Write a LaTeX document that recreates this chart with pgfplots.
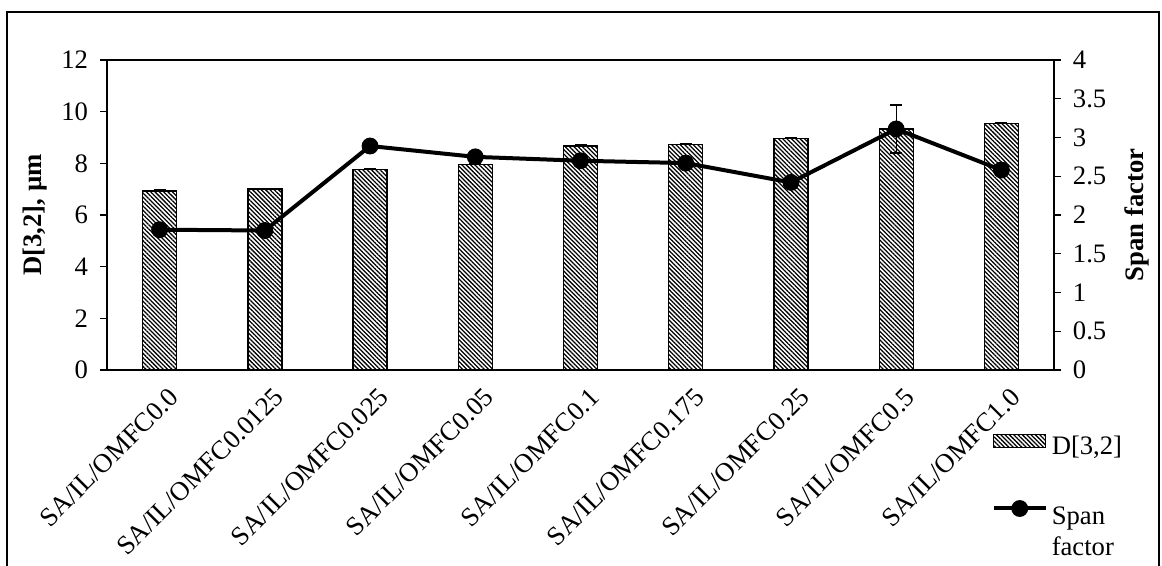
\documentclass[border=0pt]{standalone}
\usepackage{pgfplots}
\pgfplotsset{compat=1.18}
\usetikzlibrary{patterns.meta}
\usepackage{fontspec}
\setmainfont{Liberation Serif}

% Mean droplet size D[3,2] (µm) and span factor per formulation
\pgfplotstableread{
x  d32   d32err span  spanerr
0  6.93  0.04   1.81  0
1  7.00  0.04   1.80  0
2  7.77  0.04   2.89  0
3  7.96  0.04   2.75  0
4  8.67  0.04   2.70  0
5  8.74  0.04   2.67  0
6  8.97  0.04   2.42  0
7  9.33  0.04   3.11  0.31
8  9.53  0.04   2.58  0
}\datatable

\newcommand{\chartfont}{\fontsize{20}{23}\selectfont}
\tikzset{hatch/.style={pattern={Lines[angle=-45,distance=2.3pt,line width=0.95pt]}, pattern color=black}}

\begin{document}
\begin{tikzpicture}[x=1pt,y=1pt]
\pgfplotsset{
  common/.style={
    scale only axis,
    width=710.25pt, height=232.5pt,
    at={(80.25pt,147pt)}, anchor=south west,
    xmin=-0.5, xmax=8.5,
    ymin=0,
    tick align=outside,
    major tick length=5pt,
    /pgf/number format/assume math mode=true,
    ticklabel style={font=\chartfont},
    label style={font=\chartfont\bfseries},
    axis line style={line width=0.9pt},
    every tick/.style={line width=0.9pt, black},
  }
}
% left axis: D[3,2] bars
\begin{axis}[common,
  ymax=12, ytick={0,2,...,12},
  ytick pos=left,
  xtick={0,...,8},
  xtick style={draw=none},
  xticklabels={SA/IL/OMFC0.0,SA/IL/OMFC0.0125,SA/IL/OMFC0.025,SA/IL/OMFC0.05,SA/IL/OMFC0.1,SA/IL/OMFC0.175,SA/IL/OMFC0.25,SA/IL/OMFC0.5,SA/IL/OMFC1.0},
  xticklabel style={rotate=45, anchor=north east, inner sep=2pt, yshift=-7pt, xshift=1pt},
  yticklabel style={inner sep=3pt, xshift=-6pt},
  ylabel={D[3,2], µm},
  ylabel style={at={(axis description cs:-0.076,0.5)}, anchor=center},
]
\addplot[ybar, bar width=25.5pt, draw=black, line width=1pt, hatch,
  error bars/.cd, y dir=plus, y explicit,
  error bar style={line width=0.9pt, black},
  error mark options={rotate=90, mark size=4.5pt, line width=0.9pt, black}]
  table[x=x, y=d32, y error=d32err] {\datatable};
\end{axis}

% right axis: span factor line
\begin{axis}[common,
  ymax=4, ytick={0,0.5,...,4},
  axis y line*=right,
  axis x line=none,
  yticklabel style={inner sep=3pt, xshift=6pt},
  ylabel={Span factor},
  ylabel style={at={(axis description cs:1.0877,0.5)}, anchor=center, rotate=0},
  legend style={draw=none, fill=none, font=\chartfont,
    at={(axis description cs:0.934,-0.2)}, anchor=north west,
    row sep=29pt, inner sep=0pt,
    nodes={inner sep=3pt}},
  legend cell align=left,
]
\addlegendimage{legend image code/.code={
  \draw[hatch, draw=black, line width=0.8pt] (0pt,-0.5pt) rectangle (39pt,9pt);}}
\addlegendentry{D[3,2]}
\addplot[black, line width=3pt, mark=*, mark size=4.8pt,
  legend image code/.code={
    \draw[black, line width=3pt] (0pt,5pt) -- (39pt,5pt);
    \fill[black] (19.5pt,5pt) circle (4.8pt);},
  error bars/.cd, y dir=both, y explicit,
  error bar style={line width=0.9pt, black},
  error mark options={rotate=90, mark size=4.5pt, line width=0.9pt, black}]
  table[x=x, y=span, y error=spanerr] {\datatable};
\addlegendentry{\begin{tabular}[t]{@{}l@{}}Span\\factor\end{tabular}}
\end{axis}

% frame around the chart area, bounding box fixed to the page size
\pgfresetboundingbox
\path[use as bounding box] (0pt,0pt) rectangle (871.5pt,424.5pt);
\draw[line width=0.9pt] (5.25pt,-5pt) -- (5.25pt,415.5pt) -- (869.25pt,415.5pt) -- (869.25pt,-5pt);
\end{tikzpicture}
\end{document}
